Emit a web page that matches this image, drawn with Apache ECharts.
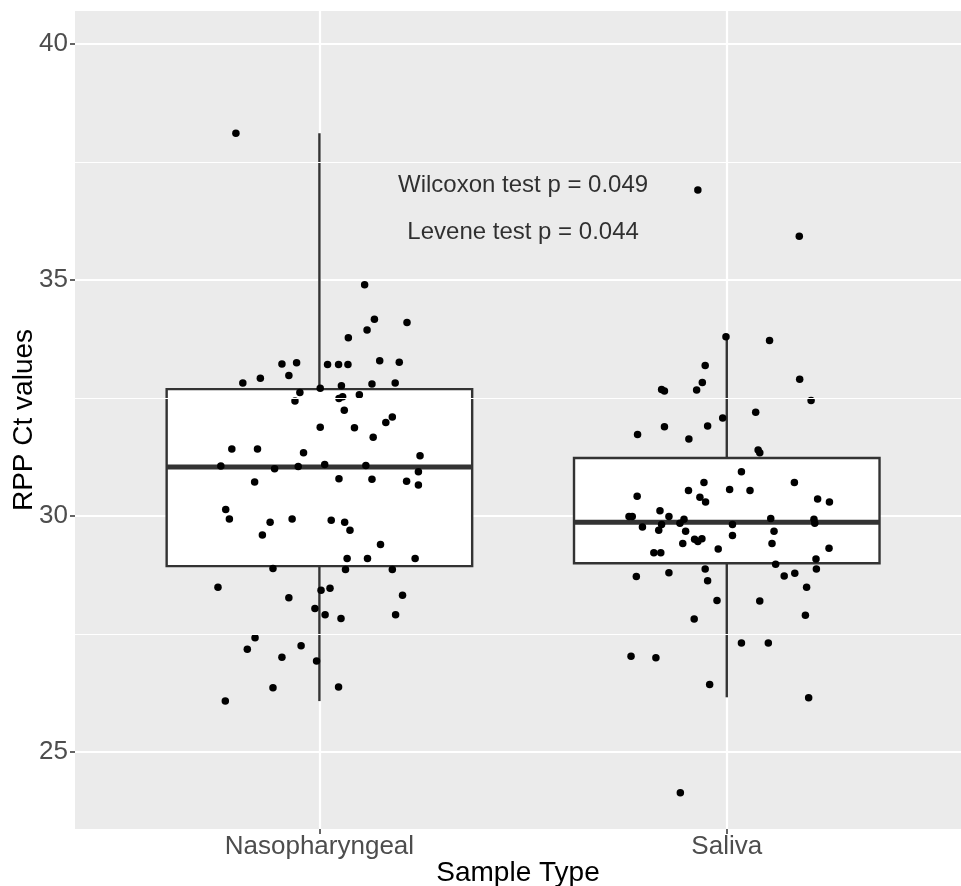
<!DOCTYPE html>
<html style="height: 100%">

<head>
    <meta charset="utf-8">
</head>

<body style="height: 100%; margin: 0; background: #ffffff">
    <div id="container" style="width: 961px; height: 886px">
    </div>

    <script src="https://cdn.jsdelivr.net/npm/echarts@6/dist/echarts.min.js" type="text/javascript">
    </script>

    <script type="text/javascript">
        // categories sit at x = 1 and x = 2, jitter is stored as an offset from them
        var categories = ['Nasopharyngeal', 'Saliva'];

        // box stats: [lower whisker, Q1, median, Q3, upper whisker]
        var boxStats = [
            [26.08, 28.94, 31.04, 32.69, 38.11],
            [26.16, 29.00, 29.87, 31.23, 33.79]
        ];

        // Nasopharyngeal points: [jitter offset, Ct]
        var nasoPoints = [
            [-0.205, 38.11], [0.111, 34.90], [0.135, 34.17], [0.215, 34.10], [0.117, 33.94],
            [0.071, 33.78], [-0.092, 33.22], [-0.056, 33.25], [0.020, 33.21], [0.047, 33.21],
            [0.070, 33.21], [0.148, 33.29], [0.196, 33.26], [-0.075, 32.98], [-0.145, 32.92],
            [-0.188, 32.82], [0.054, 32.76], [0.129, 32.80], [0.186, 32.82], [0.002, 32.71],
            [-0.048, 32.62], [-0.060, 32.44], [0.048, 32.49], [0.057, 32.53], [0.098, 32.57],
            [0.061, 32.24], [0.179, 32.10], [0.163, 31.98], [0.002, 31.88], [0.086, 31.87],
            [0.132, 31.67], [-0.215, 31.42], [-0.152, 31.42], [-0.039, 31.34], [0.247, 31.28],
            [-0.242, 31.06], [-0.110, 31.00], [-0.052, 31.05], [0.013, 31.09], [0.114, 31.07],
            [0.243, 30.94], [-0.159, 30.72], [0.048, 30.79], [0.129, 30.78], [0.214, 30.74],
            [0.243, 30.66], [-0.230, 30.14], [-0.221, 29.94], [-0.121, 29.87], [-0.067, 29.94],
            [0.029, 29.91], [0.062, 29.87], [-0.140, 29.60], [0.075, 29.70], [0.150, 29.40],
            [0.068, 29.10], [0.118, 29.10], [0.235, 29.10], [-0.114, 28.89], [0.064, 28.87],
            [0.179, 28.87], [-0.249, 28.49], [0.004, 28.43], [0.026, 28.47], [-0.075, 28.27],
            [0.204, 28.32], [-0.011, 28.04], [0.014, 27.91], [0.053, 27.83], [0.187, 27.91],
            [-0.158, 27.42], [-0.177, 27.18], [-0.045, 27.25], [-0.092, 27.01], [-0.007, 26.93],
            [-0.114, 26.36], [0.047, 26.38], [-0.231, 26.08]
        ];

        // Saliva points: [jitter offset, Ct]
        var salivaPoints = [
            [-0.071, 36.91], [0.178, 35.93], [-0.002, 33.80], [0.105, 33.72], [-0.053, 33.19],
            [-0.060, 32.83], [-0.160, 32.68], [-0.153, 32.65], [-0.074, 32.67], [0.179, 32.90],
            [0.207, 32.45], [0.071, 32.20], [-0.010, 32.08], [-0.219, 31.73], [-0.153, 31.89],
            [-0.047, 31.91], [-0.093, 31.63], [0.077, 31.40], [0.081, 31.34], [0.036, 30.94],
            [-0.056, 30.71], [0.166, 30.71], [-0.220, 30.42], [-0.094, 30.54], [0.007, 30.56],
            [0.057, 30.54], [-0.066, 30.40], [-0.052, 30.30], [0.223, 30.36], [0.252, 30.30],
            [-0.164, 30.11], [-0.240, 29.99], [-0.232, 29.99], [-0.142, 29.99], [-0.105, 29.93],
            [0.108, 29.95], [0.214, 29.93], [-0.207, 29.77], [-0.160, 29.82], [-0.167, 29.70],
            [-0.115, 29.85], [-0.101, 29.68], [0.014, 29.82], [0.014, 29.59], [0.116, 29.68],
            [0.216, 29.85], [-0.108, 29.42], [-0.079, 29.51], [-0.071, 29.46], [-0.061, 29.52],
            [0.111, 29.42], [-0.179, 29.22], [-0.162, 29.22], [-0.021, 29.30], [0.251, 29.32],
            [0.219, 29.09], [0.120, 28.98], [-0.222, 28.72], [-0.142, 28.80], [-0.053, 28.88],
            [-0.047, 28.63], [0.141, 28.73], [0.167, 28.79], [0.220, 28.88], [0.196, 28.49],
            [-0.024, 28.21], [0.081, 28.20], [-0.080, 27.82], [0.193, 27.90], [0.036, 27.31],
            [0.102, 27.31], [-0.235, 27.03], [-0.174, 27.00], [-0.042, 26.43], [0.201, 26.15],
            [-0.114, 24.14]
        ];

        var yTicks = [25, 30, 35, 40];
        var yMinor = [27.5, 32.5, 37.5];
        var notes = [
            { x: 1.5, y: 37, text: 'Wilcoxon test p = 0.049' },
            { x: 1.5, y: 36, text: 'Levene test p = 0.044' }
        ];

        var FONT = '"Liberation Sans", Arial, sans-serif';
        var BOX_W = 0.75;

        var dom = document.getElementById('container');
        var myChart = echarts.init(dom);

        var points = [];
        nasoPoints.forEach(function (p) { points.push([1 + p[0], p[1]]); });
        salivaPoints.forEach(function (p) { points.push([2 + p[0], p[1]]); });

        var boxData = boxStats.map(function (s, i) {
            return [i + 1].concat(s);
        });

        function renderBox(params, api) {
            var x = api.value(0);
            var lo = api.value(1), q1 = api.value(2), med = api.value(3),
                q3 = api.value(4), hi = api.value(5);
            var tl = api.coord([x - BOX_W / 2, q3]);
            var br = api.coord([x + BOX_W / 2, q1]);
            var cHi = api.coord([x, hi]);
            var cQ3 = api.coord([x, q3]);
            var cQ1 = api.coord([x, q1]);
            var cLo = api.coord([x, lo]);
            var mL = api.coord([x - BOX_W / 2, med]);
            var mR = api.coord([x + BOX_W / 2, med]);
            var line = { stroke: '#333333', lineWidth: 2.4 };
            return {
                type: 'group',
                children: [
                    { type: 'line', shape: { x1: cHi[0], y1: cHi[1], x2: cQ3[0], y2: cQ3[1] }, style: line },
                    { type: 'line', shape: { x1: cQ1[0], y1: cQ1[1], x2: cLo[0], y2: cLo[1] }, style: line },
                    {
                        type: 'rect',
                        shape: { x: tl[0], y: tl[1], width: br[0] - tl[0], height: br[1] - tl[1] },
                        style: { fill: '#ffffff', stroke: '#333333', lineWidth: 2.4 }
                    },
                    { type: 'line', shape: { x1: mL[0], y1: mL[1], x2: mR[0], y2: mR[1] }, style: { stroke: '#333333', lineWidth: 5 } }
                ]
            };
        }

        var option = {
            animation: false,
            backgroundColor: '#ffffff',
            textStyle: { fontFamily: FONT },
            grid: {
                left: 75,
                right: 0,
                top: 11,
                bottom: 57,
                containLabel: false,
                outerBoundsMode: 'none',
                show: true,
                backgroundColor: '#EBEBEB',
                borderWidth: 0
            },
            xAxis: {
                type: 'value',
                min: 0.4,
                max: 2.575,
                name: 'Sample Type',
                nameLocation: 'middle',
                nameGap: 30,
                nameMoveOverlap: false,
                nameTextStyle: { color: '#000000', fontSize: 28, fontFamily: FONT },
                axisLine: { show: false },
                axisTick: { show: true, length: 5, lineStyle: { color: '#333333', width: 1.5 }, customValues: [1, 2] },
                axisLabel: {
                    customValues: [1, 2],
                    color: '#4D4D4D',
                    fontSize: 26,
                    fontFamily: FONT,
                    margin: 5,
                    formatter: function (v) { return categories[Math.round(v) - 1]; }
                },
                splitLine: { show: true, lineStyle: { color: '#ffffff', width: 2.2 } }
            },
            yAxis: {
                type: 'value',
                min: 23.37,
                max: 40.7,
                name: 'RPP Ct values',
                nameLocation: 'middle',
                nameGap: 37,
                nameMoveOverlap: false,
                nameTextStyle: { color: '#000000', fontSize: 28, fontFamily: FONT },
                axisLine: { show: false },
                axisTick: { show: true, length: 5, lineStyle: { color: '#333333', width: 1.5 }, customValues: yTicks },
                axisLabel: {
                    customValues: yTicks,
                    color: '#4D4D4D',
                    fontSize: 26,
                    fontFamily: FONT,
                    margin: 7
                },
                splitLine: { show: true, lineStyle: { color: '#ffffff', width: 2.2 } }
            },
            series: [
                {
                    type: 'line',
                    data: [],
                    silent: true,
                    markLine: {
                        silent: true,
                        symbol: 'none',
                        label: { show: false },
                        lineStyle: { color: '#ffffff', width: 1.1, type: 'solid' },
                        data: yMinor.map(function (v) { return { yAxis: v }; })
                    },
                    z: 1
                },
                {
                    type: 'custom',
                    renderItem: renderBox,
                    data: boxData,
                    encode: { x: 0, y: [1, 2, 3, 4, 5] },
                    z: 2
                },
                {
                    type: 'scatter',
                    data: points,
                    symbolSize: 7.5,
                    itemStyle: { color: '#000000', opacity: 1 },
                    z: 3
                },
                {
                    type: 'scatter',
                    data: notes.map(function (n) { return { value: [n.x, n.y], name: n.text }; }),
                    symbolSize: 0,
                    label: {
                        show: true,
                        position: 'inside',
                        formatter: '{b}',
                        color: '#000000',
                        fontSize: 24,
                        fontFamily: FONT
                    },
                    z: 4
                }
            ]
        };

        myChart.setOption(option);
    </script>
</body>

</html>
